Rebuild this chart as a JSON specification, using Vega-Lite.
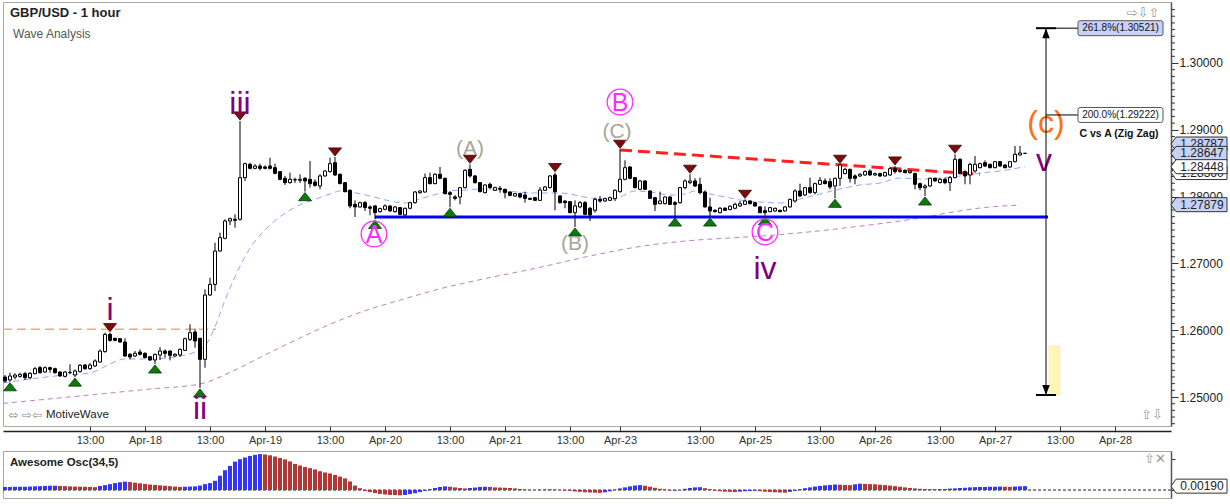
{
"$schema":"https://vega.github.io/schema/vega-lite/v6.json",
"background":"white",
"padding":{"left":0,"top":1,"right":0,"bottom":0},
"spacing":4,
"config":{"font":"Liberation Sans","view":{"stroke":"#a8a898","strokeWidth":1}},
"datasets":{
"c":[
{"i":0,"o":1.25299,"h":1.25329,"l":1.25214,"c":1.25239,"ao":0.0015},
{"i":1,"o":1.25255,"h":1.25364,"l":1.25229,"c":1.25314,"ao":0.0015},
{"i":2,"o":1.25299,"h":1.25354,"l":1.25264,"c":1.25329,"ao":0.0016},
{"i":3,"o":1.25309,"h":1.25364,"l":1.25289,"c":1.25339,"ao":0.0016},
{"i":4,"o":1.25349,"h":1.25374,"l":1.25255,"c":1.25289,"ao":0.0016},
{"i":5,"o":1.25289,"h":1.25374,"l":1.25264,"c":1.25354,"ao":0.0017},
{"i":6,"o":1.25349,"h":1.25449,"l":1.25339,"c":1.25424,"ao":0.0018},
{"i":7,"o":1.25439,"h":1.25464,"l":1.25349,"c":1.25364,"ao":0.0019},
{"i":8,"o":1.25374,"h":1.25459,"l":1.25364,"c":1.25439,"ao":0.0020},
{"i":9,"o":1.25439,"h":1.25454,"l":1.25364,"c":1.25414,"ao":0.0021},
{"i":10,"o":1.25424,"h":1.25439,"l":1.25349,"c":1.25364,"ao":0.0021},
{"i":11,"o":1.25374,"h":1.25384,"l":1.25304,"c":1.25314,"ao":0.0020},
{"i":12,"o":1.25309,"h":1.25389,"l":1.25294,"c":1.25374,"ao":0.0019},
{"i":13,"o":1.25364,"h":1.25489,"l":1.25339,"c":1.25369,"ao":0.0018},
{"i":14,"o":1.25329,"h":1.25414,"l":1.25299,"c":1.25389,"ao":0.0017},
{"i":15,"o":1.25379,"h":1.25494,"l":1.25369,"c":1.25474,"ao":0.00165},
{"i":16,"o":1.25479,"h":1.25494,"l":1.25409,"c":1.25424,"ao":0.0016},
{"i":17,"o":1.25424,"h":1.25509,"l":1.25409,"c":1.25479,"ao":0.0015},
{"i":18,"o":1.25464,"h":1.25564,"l":1.25449,"c":1.25539,"ao":0.0014},
{"i":19,"o":1.25524,"h":1.25713,"l":1.25514,"c":1.25688,"ao":0.0020},
{"i":20,"o":1.25679,"h":1.25963,"l":1.25664,"c":1.25938,"ao":0.0024},
{"i":21,"o":1.25938,"h":1.25963,"l":1.25828,"c":1.25848,"ao":0.0029},
{"i":22,"o":1.25878,"h":1.25888,"l":1.25833,"c":1.25848,"ao":0.0034},
{"i":23,"o":1.25873,"h":1.25883,"l":1.25813,"c":1.25823,"ao":0.0038},
{"i":24,"o":1.25823,"h":1.25878,"l":1.25599,"c":1.25614,"ao":0.0041},
{"i":25,"o":1.25639,"h":1.25659,"l":1.25564,"c":1.25599,"ao":0.0039},
{"i":26,"o":1.25614,"h":1.25688,"l":1.25599,"c":1.25654,"ao":0.0036},
{"i":27,"o":1.25674,"h":1.25713,"l":1.25624,"c":1.25639,"ao":0.0033},
{"i":28,"o":1.25654,"h":1.25669,"l":1.25579,"c":1.25589,"ao":0.0030},
{"i":29,"o":1.25604,"h":1.25614,"l":1.25539,"c":1.25554,"ao":0.0027},
{"i":30,"o":1.25554,"h":1.25649,"l":1.25495,"c":1.25639,"ao":0.0025},
{"i":31,"o":1.25629,"h":1.25748,"l":1.25554,"c":1.25688,"ao":0.0023},
{"i":32,"o":1.25688,"h":1.25713,"l":1.25589,"c":1.25654,"ao":0.0021},
{"i":33,"o":1.25688,"h":1.25698,"l":1.25549,"c":1.25624,"ao":0.0019},
{"i":34,"o":1.25614,"h":1.25654,"l":1.25604,"c":1.25639,"ao":0.0017},
{"i":35,"o":1.25629,"h":1.25728,"l":1.25599,"c":1.25713,"ao":0.0015},
{"i":36,"o":1.25698,"h":1.25888,"l":1.25688,"c":1.25873,"ao":0.0016},
{"i":37,"o":1.25863,"h":1.26088,"l":1.25838,"c":1.25963,"ao":0.0017},
{"i":38,"o":1.25973,"h":1.26023,"l":1.25738,"c":1.25838,"ao":0.0018},
{"i":39,"o":1.25878,"h":1.25888,"l":1.25135,"c":1.25564,"ao":0.0022},
{"i":40,"o":1.25564,"h":1.26612,"l":1.25439,"c":1.26527,"ao":0.0029},
{"i":41,"o":1.26527,"h":1.26786,"l":1.26512,"c":1.26686,"ao":0.0034},
{"i":42,"o":1.26686,"h":1.27310,"l":1.26587,"c":1.27185,"ao":0.0045},
{"i":43,"o":1.27185,"h":1.27460,"l":1.27176,"c":1.27385,"ao":0.0070},
{"i":44,"o":1.27375,"h":1.27660,"l":1.27360,"c":1.27635,"ao":0.0097},
{"i":45,"o":1.27635,"h":1.27684,"l":1.27575,"c":1.27670,"ao":0.0118},
{"i":46,"o":1.27660,"h":1.27734,"l":1.27535,"c":1.27645,"ao":0.0139},
{"i":47,"o":1.27660,"h":1.29132,"l":1.27640,"c":1.28283,"ao":0.0151},
{"i":48,"o":1.28284,"h":1.28508,"l":1.28234,"c":1.28493,"ao":0.0159},
{"i":49,"o":1.28483,"h":1.28508,"l":1.28408,"c":1.28423,"ao":0.0167},
{"i":50,"o":1.28423,"h":1.28483,"l":1.28408,"c":1.28458,"ao":0.0172},
{"i":51,"o":1.28458,"h":1.28493,"l":1.28393,"c":1.28423,"ao":0.0176},
{"i":52,"o":1.28443,"h":1.28468,"l":1.28408,"c":1.28423,"ao":0.0174},
{"i":53,"o":1.28458,"h":1.28583,"l":1.28408,"c":1.28423,"ao":0.0170},
{"i":54,"o":1.28433,"h":1.28493,"l":1.28334,"c":1.28349,"ao":0.0164},
{"i":55,"o":1.28374,"h":1.28384,"l":1.28244,"c":1.28259,"ao":0.0157},
{"i":56,"o":1.28274,"h":1.28309,"l":1.28174,"c":1.28209,"ao":0.0150},
{"i":57,"o":1.28209,"h":1.28359,"l":1.28194,"c":1.28259,"ao":0.0140},
{"i":58,"o":1.28249,"h":1.28284,"l":1.28204,"c":1.28254,"ao":0.0128},
{"i":59,"o":1.28244,"h":1.28334,"l":1.28204,"c":1.28259,"ao":0.0120},
{"i":60,"o":1.28274,"h":1.28294,"l":1.28075,"c":1.28234,"ao":0.0113},
{"i":61,"o":1.28259,"h":1.28533,"l":1.28134,"c":1.28194,"ao":0.0107},
{"i":62,"o":1.28219,"h":1.28259,"l":1.28149,"c":1.28169,"ao":0.0101},
{"i":63,"o":1.28159,"h":1.28334,"l":1.28109,"c":1.28309,"ao":0.0092},
{"i":64,"o":1.28309,"h":1.28393,"l":1.28299,"c":1.28383,"ao":0.0086},
{"i":65,"o":1.28374,"h":1.28583,"l":1.28359,"c":1.28493,"ao":0.0081},
{"i":66,"o":1.28508,"h":1.28593,"l":1.28309,"c":1.28324,"ao":0.0074},
{"i":67,"o":1.28334,"h":1.28344,"l":1.28184,"c":1.28194,"ao":0.0066},
{"i":68,"o":1.28209,"h":1.28219,"l":1.28064,"c":1.28074,"ao":0.0057},
{"i":69,"o":1.28094,"h":1.28109,"l":1.27825,"c":1.27860,"ao":0.0042},
{"i":70,"o":1.27884,"h":1.27944,"l":1.27695,"c":1.27845,"ao":0.0022},
{"i":71,"o":1.27845,"h":1.27924,"l":1.27835,"c":1.27909,"ao":0.0009},
{"i":72,"o":1.27909,"h":1.27934,"l":1.27785,"c":1.27835,"ao":-0.0005},
{"i":73,"o":1.27845,"h":1.27869,"l":1.27720,"c":1.27825,"ao":-0.0010},
{"i":74,"o":1.27860,"h":1.27870,"l":1.27660,"c":1.27760,"ao":-0.0015},
{"i":75,"o":1.27775,"h":1.27835,"l":1.27760,"c":1.27820,"ao":-0.0019},
{"i":76,"o":1.27810,"h":1.27884,"l":1.27795,"c":1.27860,"ao":-0.0022},
{"i":77,"o":1.27860,"h":1.27869,"l":1.27775,"c":1.27785,"ao":-0.0024},
{"i":78,"o":1.27775,"h":1.27860,"l":1.27760,"c":1.27845,"ao":-0.0025},
{"i":79,"o":1.27835,"h":1.27845,"l":1.27725,"c":1.27735,"ao":-0.0026},
{"i":80,"o":1.27725,"h":1.27835,"l":1.27710,"c":1.27825,"ao":-0.0024},
{"i":81,"o":1.27825,"h":1.27924,"l":1.27810,"c":1.27909,"ao":-0.0020},
{"i":82,"o":1.27909,"h":1.28084,"l":1.27894,"c":1.28069,"ao":-0.0016},
{"i":83,"o":1.28059,"h":1.28094,"l":1.28044,"c":1.28084,"ao":-0.0010},
{"i":84,"o":1.28069,"h":1.28344,"l":1.28059,"c":1.28284,"ao":-0.0004},
{"i":85,"o":1.28284,"h":1.28359,"l":1.28184,"c":1.28194,"ao":0.0004},
{"i":86,"o":1.28194,"h":1.28349,"l":1.28184,"c":1.28334,"ao":0.0010},
{"i":87,"o":1.28334,"h":1.28443,"l":1.28259,"c":1.28274,"ao":0.0015},
{"i":88,"o":1.28274,"h":1.28284,"l":1.28034,"c":1.28044,"ao":0.0018},
{"i":89,"o":1.28059,"h":1.28084,"l":1.27840,"c":1.28034,"ao":0.0016},
{"i":90,"o":1.27994,"h":1.28024,"l":1.27944,"c":1.27974,"ao":0.0013},
{"i":91,"o":1.27994,"h":1.28144,"l":1.27884,"c":1.28134,"ao":0.0010},
{"i":92,"o":1.28134,"h":1.28408,"l":1.28124,"c":1.28393,"ao":0.0008},
{"i":93,"o":1.28408,"h":1.28483,"l":1.28284,"c":1.28309,"ao":0.0010},
{"i":94,"o":1.28309,"h":1.28324,"l":1.28194,"c":1.28209,"ao":0.0012},
{"i":95,"o":1.28209,"h":1.28219,"l":1.28064,"c":1.28074,"ao":0.0015},
{"i":96,"o":1.28059,"h":1.28184,"l":1.28049,"c":1.28174,"ao":0.0016},
{"i":97,"o":1.28184,"h":1.28209,"l":1.28109,"c":1.28134,"ao":0.0015},
{"i":98,"o":1.28094,"h":1.28149,"l":1.28084,"c":1.28134,"ao":0.0013},
{"i":99,"o":1.28124,"h":1.28159,"l":1.28059,"c":1.28109,"ao":0.0012},
{"i":100,"o":1.28109,"h":1.28119,"l":1.27974,"c":1.28059,"ao":0.0011},
{"i":101,"o":1.28069,"h":1.28079,"l":1.28004,"c":1.28019,"ao":0.0010},
{"i":102,"o":1.28009,"h":1.28054,"l":1.27999,"c":1.28044,"ao":0.0008},
{"i":103,"o":1.28044,"h":1.28059,"l":1.27974,"c":1.27994,"ao":0.0005},
{"i":104,"o":1.28024,"h":1.28074,"l":1.27909,"c":1.27974,"ao":0.0002},
{"i":105,"o":1.27974,"h":1.27984,"l":1.27949,"c":1.27959,"ao":0.0001},
{"i":106,"o":1.27984,"h":1.27994,"l":1.27934,"c":1.27944,"ao":0.0000},
{"i":107,"o":1.27944,"h":1.28144,"l":1.27934,"c":1.28099,"ao":0.0001},
{"i":108,"o":1.28094,"h":1.28159,"l":1.28084,"c":1.28144,"ao":0.0002},
{"i":109,"o":1.28134,"h":1.28324,"l":1.28124,"c":1.28309,"ao":0.0003},
{"i":110,"o":1.28324,"h":1.28359,"l":1.27795,"c":1.28074,"ao":0.0002},
{"i":111,"o":1.28009,"h":1.28024,"l":1.27894,"c":1.27909,"ao":0.0001},
{"i":112,"o":1.27934,"h":1.27944,"l":1.27825,"c":1.27909,"ao":-0.0002},
{"i":113,"o":1.27924,"h":1.27934,"l":1.27750,"c":1.27760,"ao":-0.0004},
{"i":114,"o":1.27760,"h":1.27944,"l":1.27545,"c":1.27860,"ao":-0.0007},
{"i":115,"o":1.27845,"h":1.27934,"l":1.27825,"c":1.27909,"ao":-0.0009},
{"i":116,"o":1.27909,"h":1.27934,"l":1.27730,"c":1.27735,"ao":-0.0011},
{"i":117,"o":1.27825,"h":1.27845,"l":1.27635,"c":1.27725,"ao":-0.0012},
{"i":118,"o":1.27795,"h":1.27984,"l":1.27760,"c":1.27959,"ao":-0.0013},
{"i":119,"o":1.27959,"h":1.28009,"l":1.27909,"c":1.27934,"ao":-0.0014},
{"i":120,"o":1.27934,"h":1.27984,"l":1.27924,"c":1.27969,"ao":-0.0011},
{"i":121,"o":1.27944,"h":1.27999,"l":1.27934,"c":1.27984,"ao":-0.0006},
{"i":122,"o":1.27969,"h":1.28109,"l":1.27934,"c":1.28094,"ao":0.0002},
{"i":123,"o":1.28074,"h":1.28708,"l":1.28059,"c":1.28259,"ao":0.0008},
{"i":124,"o":1.28259,"h":1.28543,"l":1.28244,"c":1.28433,"ao":0.0013},
{"i":125,"o":1.28443,"h":1.28458,"l":1.28259,"c":1.28274,"ao":0.0018},
{"i":126,"o":1.28284,"h":1.28294,"l":1.28124,"c":1.28134,"ao":0.0022},
{"i":127,"o":1.28109,"h":1.28249,"l":1.28099,"c":1.28234,"ao":0.0024},
{"i":128,"o":1.28234,"h":1.28244,"l":1.28099,"c":1.28109,"ao":0.0021},
{"i":129,"o":1.28084,"h":1.28094,"l":1.27964,"c":1.27974,"ao":0.0016},
{"i":130,"o":1.27984,"h":1.27994,"l":1.27785,"c":1.27884,"ao":0.0011},
{"i":131,"o":1.27894,"h":1.28074,"l":1.27884,"c":1.27934,"ao":0.0006},
{"i":132,"o":1.27894,"h":1.28004,"l":1.27884,"c":1.27994,"ao":0.0002},
{"i":133,"o":1.27994,"h":1.28009,"l":1.27874,"c":1.27884,"ao":-0.0002},
{"i":134,"o":1.27909,"h":1.27934,"l":1.27695,"c":1.27884,"ao":-0.0003},
{"i":135,"o":1.27909,"h":1.28144,"l":1.27894,"c":1.28134,"ao":-0.0001},
{"i":136,"o":1.28134,"h":1.28259,"l":1.28109,"c":1.28234,"ao":0.0006},
{"i":137,"o":1.28209,"h":1.28334,"l":1.28184,"c":1.28234,"ao":0.0010},
{"i":138,"o":1.28234,"h":1.28274,"l":1.28144,"c":1.28159,"ao":0.0013},
{"i":139,"o":1.28184,"h":1.28284,"l":1.28034,"c":1.28059,"ao":0.0014},
{"i":140,"o":1.28069,"h":1.28094,"l":1.27835,"c":1.27845,"ao":0.0009},
{"i":141,"o":1.27845,"h":1.27984,"l":1.27695,"c":1.27785,"ao":0.0004},
{"i":142,"o":1.27795,"h":1.27810,"l":1.27760,"c":1.27775,"ao":-0.0003},
{"i":143,"o":1.27760,"h":1.27845,"l":1.27750,"c":1.27825,"ao":-0.0006},
{"i":144,"o":1.27825,"h":1.27845,"l":1.27785,"c":1.27795,"ao":-0.0008},
{"i":145,"o":1.27805,"h":1.27870,"l":1.27795,"c":1.27855,"ao":-0.0009},
{"i":146,"o":1.27825,"h":1.27909,"l":1.27810,"c":1.27884,"ao":-0.0010},
{"i":147,"o":1.27860,"h":1.27934,"l":1.27845,"c":1.27894,"ao":-0.0008},
{"i":148,"o":1.27884,"h":1.27959,"l":1.27874,"c":1.27934,"ao":-0.0006},
{"i":149,"o":1.27934,"h":1.27944,"l":1.27884,"c":1.27894,"ao":-0.0005},
{"i":150,"o":1.27909,"h":1.27924,"l":1.27845,"c":1.27860,"ao":-0.0004},
{"i":151,"o":1.27845,"h":1.27860,"l":1.27750,"c":1.27760,"ao":-0.0006},
{"i":152,"o":1.27790,"h":1.27855,"l":1.27715,"c":1.27760,"ao":-0.0008},
{"i":153,"o":1.27775,"h":1.27845,"l":1.27765,"c":1.27835,"ao":-0.0010},
{"i":154,"o":1.27785,"h":1.27835,"l":1.27775,"c":1.27825,"ao":-0.0011},
{"i":155,"o":1.27795,"h":1.27805,"l":1.27765,"c":1.27775,"ao":-0.0012},
{"i":156,"o":1.27785,"h":1.27855,"l":1.27775,"c":1.27845,"ao":-0.0013},
{"i":157,"o":1.27845,"h":1.27969,"l":1.27835,"c":1.27959,"ao":-0.0009},
{"i":158,"o":1.27934,"h":1.28109,"l":1.27909,"c":1.28084,"ao":-0.0004},
{"i":159,"o":1.28084,"h":1.28194,"l":1.27994,"c":1.28009,"ao":0.0004},
{"i":160,"o":1.28024,"h":1.28144,"l":1.28009,"c":1.28134,"ao":0.0009},
{"i":161,"o":1.28134,"h":1.28284,"l":1.28044,"c":1.28059,"ao":0.0013},
{"i":162,"o":1.28059,"h":1.28209,"l":1.28034,"c":1.28194,"ao":0.0017},
{"i":163,"o":1.28184,"h":1.28294,"l":1.28174,"c":1.28244,"ao":0.0020},
{"i":164,"o":1.28234,"h":1.28274,"l":1.28184,"c":1.28194,"ao":0.0023},
{"i":165,"o":1.28224,"h":1.28274,"l":1.28109,"c":1.28144,"ao":0.0025},
{"i":166,"o":1.28159,"h":1.28284,"l":1.27975,"c":1.28274,"ao":0.0027},
{"i":167,"o":1.28274,"h":1.28483,"l":1.28159,"c":1.28473,"ao":0.0026},
{"i":168,"o":1.28344,"h":1.28433,"l":1.28334,"c":1.28408,"ao":0.0025},
{"i":169,"o":1.28408,"h":1.28418,"l":1.28209,"c":1.28274,"ao":0.0024},
{"i":170,"o":1.28309,"h":1.28334,"l":1.28184,"c":1.28274,"ao":0.0028},
{"i":171,"o":1.28309,"h":1.28349,"l":1.28294,"c":1.28334,"ao":0.0031},
{"i":172,"o":1.28324,"h":1.28393,"l":1.28309,"c":1.28374,"ao":0.0030},
{"i":173,"o":1.28383,"h":1.28408,"l":1.28309,"c":1.28324,"ao":0.0029},
{"i":174,"o":1.28324,"h":1.28359,"l":1.28309,"c":1.28344,"ao":0.0028},
{"i":175,"o":1.28344,"h":1.28359,"l":1.28294,"c":1.28309,"ao":0.0026},
{"i":176,"o":1.28309,"h":1.28374,"l":1.28299,"c":1.28359,"ao":0.0024},
{"i":177,"o":1.28324,"h":1.28433,"l":1.28309,"c":1.28418,"ao":0.0022},
{"i":178,"o":1.28418,"h":1.28458,"l":1.28344,"c":1.28374,"ao":0.0019},
{"i":179,"o":1.28374,"h":1.28408,"l":1.28359,"c":1.28393,"ao":0.0016},
{"i":180,"o":1.28393,"h":1.28408,"l":1.28349,"c":1.28359,"ao":0.0013},
{"i":181,"o":1.28359,"h":1.28398,"l":1.28344,"c":1.28383,"ao":0.0010},
{"i":182,"o":1.28344,"h":1.28359,"l":1.28109,"c":1.28184,"ao":0.0008},
{"i":183,"o":1.28194,"h":1.28209,"l":1.28094,"c":1.28134,"ao":0.0006},
{"i":184,"o":1.28134,"h":1.28184,"l":1.28010,"c":1.28159,"ao":0.0005},
{"i":185,"o":1.28159,"h":1.28284,"l":1.28149,"c":1.28274,"ao":0.0004},
{"i":186,"o":1.28274,"h":1.28284,"l":1.28224,"c":1.28234,"ao":0.0003},
{"i":187,"o":1.28209,"h":1.28274,"l":1.28199,"c":1.28259,"ao":0.0004},
{"i":188,"o":1.28259,"h":1.28284,"l":1.28184,"c":1.28209,"ao":0.0005},
{"i":189,"o":1.28209,"h":1.28309,"l":1.28084,"c":1.28284,"ao":0.0007},
{"i":190,"o":1.28284,"h":1.28633,"l":1.28274,"c":1.28558,"ao":0.0008},
{"i":191,"o":1.28558,"h":1.28573,"l":1.28334,"c":1.28344,"ao":0.0010},
{"i":192,"o":1.28374,"h":1.28393,"l":1.28184,"c":1.28309,"ao":0.0011},
{"i":193,"o":1.28324,"h":1.28508,"l":1.28184,"c":1.28483,"ao":0.0013},
{"i":194,"o":1.28383,"h":1.28608,"l":1.28359,"c":1.28483,"ao":0.0014},
{"i":195,"o":1.28433,"h":1.28508,"l":1.28423,"c":1.28493,"ao":0.0015},
{"i":196,"o":1.28508,"h":1.28543,"l":1.28443,"c":1.28458,"ao":0.0015},
{"i":197,"o":1.28483,"h":1.28493,"l":1.28423,"c":1.28433,"ao":0.0016},
{"i":198,"o":1.28433,"h":1.28533,"l":1.28423,"c":1.28523,"ao":0.0016},
{"i":199,"o":1.28523,"h":1.28533,"l":1.28443,"c":1.28458,"ao":0.0017},
{"i":200,"o":1.28473,"h":1.28483,"l":1.28423,"c":1.28433,"ao":0.0016},
{"i":201,"o":1.28443,"h":1.28533,"l":1.28433,"c":1.28523,"ao":0.0015},
{"i":202,"o":1.28523,"h":1.28758,"l":1.28513,"c":1.28633,"ao":0.0017},
{"i":203,"o":1.28623,"h":1.28758,"l":1.28613,"c":1.28653,"ao":0.0018},
{"i":204,"o":1.28648,"h":1.28653,"l":1.28643,"c":1.28647,"ao":0.0019}
],
"hi":[{"i":21},{"i":47},{"i":66},{"i":93},{"i":110},{"i":123},{"i":137},{"i":148},{"i":167},{"i":178},{"i":190}],
"lo":[{"i":1},{"i":14},{"i":30},{"i":39},{"i":60},{"i":74},{"i":89},{"i":114},{"i":134},{"i":141},{"i":152},{"i":166},{"i":184}],
"ma1":[{"i":-0.4,"v":1.2521},{"i":5,"v":1.25269},{"i":12,"v":1.25329},{"i":17,"v":1.25359},{"i":19,"v":1.25419},{"i":21,"v":1.25494},{"i":24,"v":1.25569},{"i":29,"v":1.25569},{"i":35,"v":1.25614},{"i":38,"v":1.25674},{"i":40,"v":1.25763},{"i":42,"v":1.2605},{"i":44,"v":1.2645},{"i":46,"v":1.268},{"i":48,"v":1.271},{"i":50,"v":1.27335},{"i":52,"v":1.275},{"i":55,"v":1.277},{"i":58,"v":1.2784},{"i":62,"v":1.2796},{"i":65,"v":1.28039},{"i":67,"v":1.28084},{"i":69,"v":1.28069},{"i":73,"v":1.28009},{"i":77,"v":1.27934},{"i":80,"v":1.27904},{"i":83,"v":1.27964},{"i":85,"v":1.28009},{"i":89,"v":1.28084},{"i":92,"v":1.28099},{"i":95,"v":1.28114},{"i":100,"v":1.28084},{"i":106,"v":1.28054},{"i":111,"v":1.28054},{"i":113,"v":1.28039},{"i":117,"v":1.27979},{"i":121,"v":1.27964},{"i":123,"v":1.27994},{"i":126,"v":1.28084},{"i":129,"v":1.28069},{"i":133,"v":1.28024},{"i":136,"v":1.28039},{"i":138,"v":1.28084},{"i":141,"v":1.28039},{"i":145,"v":1.27979},{"i":147,"v":1.27949},{"i":151,"v":1.27919},{"i":155,"v":1.27904},{"i":159,"v":1.27964},{"i":163,"v":1.28039},{"i":167,"v":1.28114},{"i":171,"v":1.28174},{"i":175,"v":1.28204},{"i":179,"v":1.28278},{"i":183,"v":1.28263},{"i":187,"v":1.28278},{"i":191,"v":1.28308},{"i":195,"v":1.28353},{"i":199,"v":1.28383},{"i":204,"v":1.28448}],
"ma2":[{"i":-0.4,"v":1.24905},{"i":19,"v":1.25045},{"i":29,"v":1.2512},{"i":39,"v":1.25195},{"i":45.6,"v":1.25389},{"i":52.4,"v":1.25644},{"i":59,"v":1.25883},{"i":65.6,"v":1.26108},{"i":72.4,"v":1.26302},{"i":79,"v":1.2645},{"i":87,"v":1.2662},{"i":95.6,"v":1.26766},{"i":106.4,"v":1.26931},{"i":117,"v":1.27111},{"i":127.6,"v":1.2726},{"i":138.4,"v":1.2735},{"i":145,"v":1.2738},{"i":156.4,"v":1.2744},{"i":169.6,"v":1.27545},{"i":183,"v":1.2768},{"i":189.6,"v":1.27769},{"i":195,"v":1.27829},{"i":203,"v":1.27874}],
"wave":[{"i":21,"p":1.26302,"t":"i"},{"i":39,"p":1.2482,"t":"ii"},{"i":47,"p":1.29386,"t":"iii"},{"i":152,"p":1.26916,"t":"iv"},{"i":207.8,"p":1.28533,"t":"v"}],
"circ":[{"i":73.8,"p":1.2744,"t":"A"},{"i":123,"p":1.29416,"t":"B"},{"i":152,"p":1.2747,"t":"C"}],
"gray":[{"i":93,"p":1.28713,"t":"(A)"},{"i":114,"p":1.2729,"t":"(B)"},{"i":122.4,"p":1.28967,"t":"(C)"}],
"tags":[{"p":1.28787,"k":"high","z":1},{"p":1.2836,"k":"low","z":1},{"p":1.28647,"k":"last","z":2},{"p":1.28448,"k":"ma1","z":2},{"p":1.27879,"k":"ma2","z":2}],
"meas":[{"p":1.30521,"t":"261.8%(1.30521)","k":"a"},{"p":1.29222,"t":"200.0%(1.29222)","k":"b"}],
"yt":[{"p":1.246},{"p":1.247},{"p":1.248},{"p":1.249},{"p":1.251},{"p":1.252},{"p":1.253},{"p":1.254},{"p":1.255},{"p":1.256},{"p":1.257},{"p":1.258},{"p":1.259},{"p":1.261},{"p":1.262},{"p":1.263},{"p":1.264},{"p":1.265},{"p":1.266},{"p":1.267},{"p":1.268},{"p":1.269},{"p":1.271},{"p":1.272},{"p":1.273},{"p":1.274},{"p":1.275},{"p":1.276},{"p":1.277},{"p":1.278},{"p":1.279},{"p":1.281},{"p":1.282},{"p":1.283},{"p":1.284},{"p":1.285},{"p":1.286},{"p":1.287},{"p":1.288},{"p":1.289},{"p":1.291},{"p":1.292},{"p":1.293},{"p":1.294},{"p":1.295},{"p":1.296},{"p":1.297},{"p":1.298},{"p":1.299},{"p":1.301},{"p":1.302},{"p":1.303},{"p":1.304},{"p":1.305},{"p":1.306},{"p":1.307},{"p":1.308}]
},
"vconcat":[
{
"width":1168,"height":424,
"layer":[
{"data":{"values":[{}]},"mark":{"type":"rule","color":"#f7a676","strokeWidth":1.5,"strokeDash":[9,5]},
 "encoding":{"x":{"datum":-0.4,"type":"quantitative","title":null},"x2":{"datum":42.2},"y":{"datum":1.26013,"type":"quantitative","title":null}}},
{"data":{"name":"ma2"},"mark":{"type":"line","color":"#c27ec8","strokeWidth":1,"strokeDash":[5,4],"interpolate":"monotone"},
 "encoding":{"x":{"field":"i","type":"quantitative","title":null},"y":{"field":"v","type":"quantitative","title":null}}},
{"data":{"name":"ma1"},"mark":{"type":"line","color":"#8caaf5","strokeWidth":1,"strokeDash":[6,4],"interpolate":"monotone"},
 "encoding":{"x":{"field":"i","type":"quantitative","title":null},"y":{"field":"v","type":"quantitative","title":null}}},
{"data":{"values":[{}]},"mark":{"type":"rule","color":"#0000ff","strokeWidth":3},
 "encoding":{"x":{"datum":74,"type":"quantitative","title":null},"x2":{"datum":208.6},"y":{"datum":1.27695,"type":"quantitative","title":null}}},
{"data":{"values":[{}]},"mark":{"type":"rule","color":"#ff2020","strokeWidth":3,"strokeDash":[12,6]},
 "encoding":{"x":{"datum":123,"type":"quantitative","title":null},"x2":{"datum":195},"y":{"datum":1.28697,"type":"quantitative","title":null},"y2":{"datum":1.28334}}},
{"data":{"name":"c"},"mark":{"type":"rule","color":"black","strokeWidth":1},
 "encoding":{"x":{"field":"i","type":"quantitative","title":null},"y":{"field":"l","type":"quantitative","title":null},"y2":{"field":"h"}}},
{"data":{"name":"c"},"mark":{"type":"bar","size":3,"stroke":"black","strokeWidth":1},
 "encoding":{
  "x":{"field":"i","type":"quantitative","title":null,"scale":{"domain":[-0.4,233.2],"nice":false,"zero":false,"padding":0},
   "axis":{"orient":"bottom","offset":5,"title":null,"values":[17,28,41,52,65,76,89,100,113,123,139,150,163,174,187,198,211,222],
    "labelExpr":"['13:00','Apr-18','13:00','Apr-19','13:00','Apr-20','13:00','Apr-21','13:00','Apr-23','13:00','Apr-25','13:00','Apr-26','13:00','Apr-27','13:00','Apr-28'][indexof([17,28,41,52,65,76,89,100,113,123,139,150,163,174,187,198,211,222], datum.value)]",
    "tickSize":-5,"tickColor":"#333","labelFontSize":11,"labelColor":"#333","labelPadding":8,"domainColor":"#222","domainWidth":1.5,"grid":false,"labelOverlap":false,"labelFlush":false}},
  "y":{"field":"o","type":"quantitative","title":null,"scale":{"domain":[1.24566,1.30913],"nice":false,"zero":false,"padding":0},
   "axis":{"orient":"right","title":null,"values":[1.25,1.26,1.27,1.28,1.29,1.3],"format":".5f",
    "tickSize":7,"tickColor":"#333","labelFontSize":12,"labelColor":"#222","labelPadding":1,"domainColor":"#555","domainWidth":1.5,"grid":false,"labelOverlap":false}},
  "y2":{"field":"c"},
  "fill":{"condition":{"test":"datum.c >= datum.o","value":"white"},"value":"black"}}},
{"data":{"name":"yt"},"mark":{"type":"rule","color":"#333","strokeWidth":1},
 "encoding":{"x":{"datum":233.2,"type":"quantitative","title":null},"x2":{"datum":234.0},"y":{"field":"p","type":"quantitative","title":null}}},
{"data":{"name":"lo"},"transform":[{"lookup":"i","from":{"data":{"name":"c"},"key":"i","fields":["l"]}}],
 "mark":{"type":"point","shape":"M0,0.15L1,1.4L-1,1.4Z","size":169,"filled":true,"fill":"#0b7a0b","stroke":"#063806","strokeWidth":0.8,"opacity":1},
 "encoding":{"x":{"field":"i","type":"quantitative","title":null},"y":{"field":"l","type":"quantitative","title":null}}},
{"data":{"name":"hi"},"transform":[{"lookup":"i","from":{"data":{"name":"c"},"key":"i","fields":["h"]}}],
 "mark":{"type":"point","shape":"M0,-0.15L1,-1.4L-1,-1.4Z","size":169,"filled":true,"fill":"#7c0a0a","stroke":"#3a0505","strokeWidth":0.8,"opacity":1},
 "encoding":{"x":{"field":"i","type":"quantitative","title":null},"y":{"field":"h","type":"quantitative","title":null}}},
{"data":{"name":"wave"},"mark":{"type":"text","color":"#800080","fontSize":32,"align":"center","baseline":"middle"},
 "encoding":{"x":{"field":"i","type":"quantitative","title":null},"y":{"field":"p","type":"quantitative","title":null},"text":{"field":"t"}}},
{"data":{"name":"circ"},"mark":{"type":"point","shape":"circle","size":660,"filled":false,"stroke":"#ff2cff","strokeWidth":1.3,"opacity":1},
 "encoding":{"x":{"field":"i","type":"quantitative","title":null},"y":{"field":"p","type":"quantitative","title":null}}},
{"data":{"name":"circ"},"mark":{"type":"text","color":"#ff2cff","fontSize":25,"align":"center","baseline":"middle","dy":1},
 "encoding":{"x":{"field":"i","type":"quantitative","title":null},"y":{"field":"p","type":"quantitative","title":null},"text":{"field":"t"}}},
{"data":{"name":"gray"},"mark":{"type":"text","color":"#a9a595","fontSize":21,"align":"center","baseline":"middle"},
 "encoding":{"x":{"field":"i","type":"quantitative","title":null},"y":{"field":"p","type":"quantitative","title":null},"text":{"field":"t"}}},
{"data":{"values":[{}]},"mark":{"type":"text","color":"#ff7010","fontSize":32,"align":"center","baseline":"middle","text":"(c)"},
 "encoding":{"x":{"datum":208.2,"type":"quantitative","title":null},"y":{"datum":1.29102,"type":"quantitative","title":null}}},
{"data":{"values":[{}]},"mark":{"type":"rect","fill":"#fff6b8","stroke":"#ece2a0","strokeWidth":0.5},
 "encoding":{"x":{"datum":208.8,"type":"quantitative","title":null},"x2":{"datum":211},"y":{"datum":1.25764,"type":"quantitative","title":null},"y2":{"datum":1.2503}}},
{"data":{"values":[{}]},"mark":{"type":"rule","color":"black","strokeWidth":1},
 "encoding":{"x":{"datum":208.2,"type":"quantitative","title":null},"y":{"datum":1.30521,"type":"quantitative","title":null},"y2":{"datum":1.2503}}},
{"data":{"values":[{}]},"mark":{"type":"rule","color":"black","strokeWidth":2},
 "encoding":{"x":{"datum":206.2,"type":"quantitative","title":null},"x2":{"datum":210.2},"y":{"datum":1.30521,"type":"quantitative","title":null}}},
{"data":{"values":[{}]},"mark":{"type":"rule","color":"black","strokeWidth":2},
 "encoding":{"x":{"datum":206.2,"type":"quantitative","title":null},"x2":{"datum":210.2},"y":{"datum":1.2503,"type":"quantitative","title":null}}},
{"data":{"values":[{}]},"mark":{"type":"rule","color":"black","strokeWidth":1},
 "encoding":{"x":{"datum":210.2,"type":"quantitative","title":null},"x2":{"datum":215},"y":{"datum":1.30521,"type":"quantitative","title":null}}},
{"data":{"values":[{}]},"mark":{"type":"rule","color":"black","strokeWidth":1},
 "encoding":{"x":{"datum":208.2,"type":"quantitative","title":null},"x2":{"datum":215},"y":{"datum":1.29222,"type":"quantitative","title":null}}},
{"data":{"values":[{}]},"mark":{"type":"point","shape":"M0,0L0.6,1.6L-0.6,1.6Z","size":156,"filled":true,"fill":"black","opacity":1},
 "encoding":{"x":{"datum":208.2,"type":"quantitative","title":null},"y":{"datum":1.30521,"type":"quantitative","title":null}}},
{"data":{"values":[{}]},"mark":{"type":"point","shape":"M0,0L0.6,-1.6L-0.6,-1.6Z","size":156,"filled":true,"fill":"black","opacity":1},
 "encoding":{"x":{"datum":208.2,"type":"quantitative","title":null},"y":{"datum":1.2503,"type":"quantitative","title":null}}},
{"data":{"name":"meas"},"mark":{"type":"point","shape":"M-0.95,-0.176H0.95Q1,-0.176 1,-0.126V0.126Q1,0.176 0.95,0.176H-0.95Q-1,0.176 -1,0.126V-0.126Q-1,-0.176 -0.95,-0.176Z","size":7225,"filled":true,"stroke":"#555","strokeWidth":1,"opacity":1},
 "encoding":{"x":{"datum":223.1,"type":"quantitative","title":null},"y":{"field":"p","type":"quantitative","title":null},
  "fill":{"field":"k","type":"nominal","scale":{"domain":["a","b"],"range":["#c8d2f8","#ffffff"]},"legend":null}}},
{"data":{"name":"meas"},"mark":{"type":"text","fontSize":10,"color":"#111","align":"center","baseline":"middle"},
 "encoding":{"x":{"datum":223.1,"type":"quantitative","title":null},"y":{"field":"p","type":"quantitative","title":null},"text":{"field":"t"}}},
{"data":{"values":[{}]},"mark":{"type":"text","fontSize":10.5,"fontWeight":"bold","color":"#111","align":"center","baseline":"middle","text":"C vs A (Zig Zag)"},
 "encoding":{"x":{"datum":222.8,"type":"quantitative","title":null},"y":{"datum":1.28937,"type":"quantitative","title":null}}},
{"data":{"name":"tags"},"transform":[{"filter":"datum.z == 1"}],
 "mark":{"type":"point","shape":"M-1,0L-0.82,-0.25L1,-0.25L1,0.25L-0.82,0.25Z","size":3136,"filled":true,"stroke":"#333","strokeWidth":1,"opacity":1},
 "encoding":{"x":{"datum":238.8,"type":"quantitative","title":null},"y":{"field":"p","type":"quantitative","title":null},
  "fill":{"field":"k","type":"nominal","scale":{"domain":["high","low","last","ma1","ma2"],"range":["#d2ebfa","#f4b4b4","#b4b8f2","#ffffff","#ffffff"]},"legend":null}}},
{"data":{"name":"tags"},"transform":[{"filter":"datum.z == 1"}],
 "mark":{"type":"text","fontSize":12,"color":"#222","align":"center","baseline":"middle"},
 "encoding":{"x":{"datum":239.4,"type":"quantitative","title":null},"y":{"field":"p","type":"quantitative","title":null},"text":{"field":"p","type":"quantitative","format":".5f"}}},
{"data":{"name":"tags"},"transform":[{"filter":"datum.z == 2"}],
 "mark":{"type":"point","shape":"M-1,0L-0.82,-0.25L1,-0.25L1,0.25L-0.82,0.25Z","size":3136,"filled":true,"stroke":"#333","strokeWidth":1,"opacity":1},
 "encoding":{"x":{"datum":238.8,"type":"quantitative","title":null},"y":{"field":"p","type":"quantitative","title":null},
  "fill":{"field":"k","type":"nominal","scale":{"domain":["high","low","last","ma1","ma2"],"range":["#d2ebfa","#f4b4b4","#b4b8f2","#ffffff","#ffffff"]},"legend":null}}},
{"data":{"name":"tags"},"transform":[{"filter":"datum.z == 2"}],
 "mark":{"type":"text","fontSize":12,"color":"#222","align":"center","baseline":"middle"},
 "encoding":{"x":{"datum":239.4,"type":"quantitative","title":null},"y":{"field":"p","type":"quantitative","title":null},"text":{"field":"p","type":"quantitative","format":".5f"}}},
{"data":{"values":[{}]},"mark":{"type":"text","fontSize":13,"fontWeight":"bold","color":"#222","align":"left","baseline":"middle","text":"GBP/USD - 1 hour"},
 "encoding":{"x":{"datum":1.0,"type":"quantitative","title":null},"y":{"datum":1.30748,"type":"quantitative","title":null}}},
{"data":{"values":[{}]},"mark":{"type":"text","fontSize":12,"color":"#555","align":"left","baseline":"middle","text":"Wave Analysis"},
 "encoding":{"x":{"datum":1.6,"type":"quantitative","title":null},"y":{"datum":1.30434,"type":"quantitative","title":null}}},
{"data":{"values":[{}]},"mark":{"type":"text","fontSize":12,"font":"DejaVu Sans","color":"#888","align":"left","baseline":"middle","text":"⬄ ⇨⇦"},
 "encoding":{"x":{"datum":0.6,"type":"quantitative","title":null},"y":{"datum":1.2473,"type":"quantitative","title":null}}},
{"data":{"values":[{}]},"mark":{"type":"text","fontSize":11.5,"color":"#222","align":"left","baseline":"middle","text":"MotiveWave"},
 "encoding":{"x":{"datum":8.2,"type":"quantitative","title":null},"y":{"datum":1.2473,"type":"quantitative","title":null}}},
{"data":{"values":[{}]},"mark":{"type":"text","fontSize":13,"font":"DejaVu Sans","color":"#999","align":"center","baseline":"middle","text":"⇨⇩⇧"},
 "encoding":{"x":{"datum":227.6,"type":"quantitative","title":null},"y":{"datum":1.30748,"type":"quantitative","title":null}}},
{"data":{"values":[{}]},"mark":{"type":"text","fontSize":13,"font":"DejaVu Sans","color":"#999","align":"center","baseline":"middle","text":"⇧⇩"},
 "encoding":{"x":{"datum":229.4,"type":"quantitative","title":null},"y":{"datum":1.2473,"type":"quantitative","title":null}}}
]
},
{
"width":1168,"height":47,
"layer":[
{"data":{"values":[{}]},"mark":{"type":"rule","color":"#222","strokeWidth":1,"strokeDash":[3,2]},
 "encoding":{"y":{"datum":0,"type":"quantitative","title":null,"scale":{"domain":[-0.0039,0.0191],"nice":false,"zero":false,"padding":0},
  "axis":{"orient":"right","values":[0.015,0.01,0.005,0],"labels":false,"tickSize":4,"tickColor":"#333","domainColor":"#555","domainWidth":1.5,"grid":false,"title":null}}}},
{"data":{"name":"c"},"transform":[{"window":[{"op":"lag","field":"ao","as":"prev"}],"sort":[{"field":"i","order":"ascending"}]}],
 "mark":{"type":"bar","size":4},
 "encoding":{"x":{"field":"i","type":"quantitative","title":null,"scale":{"domain":[-0.4,233.2],"nice":false,"zero":false,"padding":0},"axis":null},
  "y":{"field":"ao","type":"quantitative","title":null},"y2":{"datum":0},
  "color":{"condition":{"test":"datum.prev == null || datum.ao >= datum.prev","value":"#3535f5"},"value":"#b23838"}}},
{"data":{"values":[{}]},"mark":{"type":"text","fontSize":11.5,"fontWeight":"bold","color":"#222","align":"left","baseline":"middle","text":"Awesome Osc(34,5)"},
 "encoding":{"x":{"datum":1.0,"type":"quantitative","title":null,"axis":null},"y":{"datum":0.0133,"type":"quantitative","title":null}}},
{"data":{"values":[{}]},"mark":{"type":"text","fontSize":13,"font":"DejaVu Sans","color":"#999","align":"center","baseline":"middle","text":"⇧✕"},
 "encoding":{"x":{"datum":230,"type":"quantitative","title":null,"axis":null},"y":{"datum":0.0150,"type":"quantitative","title":null}}},
{"data":{"values":[{}]},"mark":{"type":"point","shape":"M-1,0L-0.82,-0.25L1,-0.25L1,0.25L-0.82,0.25Z","size":3136,"filled":true,"fill":"white","stroke":"#333","strokeWidth":1,"opacity":1},
 "encoding":{"x":{"datum":238.8,"type":"quantitative","title":null,"axis":null},"y":{"datum":0.0019,"type":"quantitative","title":null}}},
{"data":{"values":[{}]},"mark":{"type":"text","fontSize":12,"color":"#222","align":"center","baseline":"middle","text":"0.00190"},
 "encoding":{"x":{"datum":239.4,"type":"quantitative","title":null,"axis":null},"y":{"datum":0.0019,"type":"quantitative","title":null}}}
]
}
]
}
